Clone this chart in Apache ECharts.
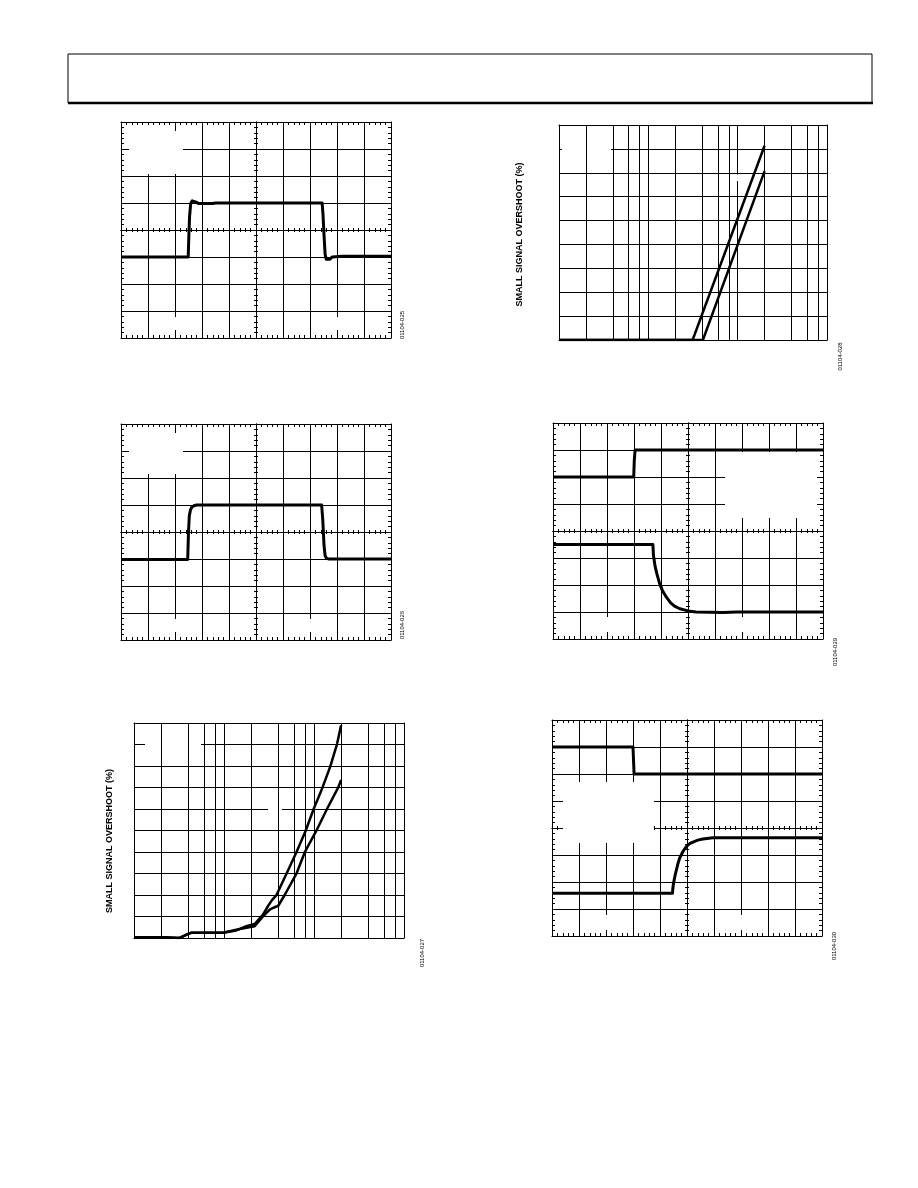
<!DOCTYPE html>
<html><head><meta charset="utf-8">
<script src="https://cdn.jsdelivr.net/npm/echarts@6/dist/echarts.min.js"></script>
<style>html,body{margin:0;padding:0;background:#fff}#c{width:918px;height:1188px}</style>
</head><body><div id="c"></div><script>
// ---------- DATA (scope traces in screen divisions: x 0..10, y -4..4) ----------
const p1Trace = [[0,-1.0],[2.49,-1.0],[2.51,-0.3],[2.54,0.5],[2.58,0.97],[2.64,1.08],[2.71,1.12],[2.78,1.03],[2.88,0.98],[3.4,0.98],[3.5,1.0],[7.45,1.0],[7.48,0.6],[7.52,-0.2],[7.56,-0.9],[7.6,-1.08],[7.66,-1.13],[7.74,-1.08],[7.82,-1.0],[8.2,-0.97],[10,-0.97]];
const p2Trace = [[0,-1.02],[2.47,-1.02],[2.5,0.0],[2.53,0.6],[2.57,0.8],[2.62,0.92],[2.7,0.97],[2.8,1.0],[7.43,1.0],[7.47,0.5],[7.52,-0.5],[7.56,-0.88],[7.6,-0.96],[7.68,-1.0],[10,-1.0]];
const p4Top = [[0,2],[2.99,2],[3.01,2.6],[3.04,3],[10,3]];
const p4Bottom = [[0,-0.5],[3.70,-0.5],[3.72,-0.9],[3.78,-1.3],[3.85,-1.6],[3.95,-1.95],[4.05,-2.2],[4.2,-2.45],[4.35,-2.65],[4.5,-2.78],[4.7,-2.88],[5.0,-2.96],[5.3,-3.0],[6.3,-3.02],[6.8,-3.0],[10,-3.0]];
const p6Top = [[0,3],[3.0,3],[3.02,2.5],[3.04,2.0],[10,2.0]];
const p6Bottom = [[0,-2.42],[4.46,-2.42],[4.48,-2.2],[4.51,-2.0],[4.56,-1.75],[4.61,-1.54],[4.67,-1.3],[4.73,-1.11],[4.85,-0.87],[4.98,-0.68],[5.1,-0.58],[5.22,-0.52],[5.4,-0.45],[5.59,-0.41],[5.96,-0.36],[10,-0.36]];
// log-x plots (x: 1..1000, y: grid divisions)
const p3CurveA = [[1,0],[31.3,0],[200,8.13]];
const p3CurveB = [[1,0],[40.8,0],[200,7.07]];
const p5CurveA = [[1,0.03],[2.1,0.03],[3.2,0.0],[3.8,0.15],[4.3,0.24],[9.75,0.24],[13.7,0.35],[17.7,0.55],[21.9,0.65],[27.1,1.09],[31,1.5],[34,1.75],[38.1,1.98],[49.3,2.98],[63.6,3.98],[80.8,4.99],[99.1,6.0],[123.8,6.98],[151.8,7.98],[180.2,9.02],[200,9.9]];
const p5CurveB = [[1,0.03],[2.1,0.03],[3.2,0.0],[3.8,0.15],[4.3,0.24],[9.75,0.24],[13.7,0.38],[17.7,0.47],[21.9,0.55],[27.1,1.0],[32.2,1.32],[36,1.42],[40.1,1.5],[47.2,2.0],[63.6,2.98],[78.8,3.98],[106.2,4.99],[139.4,6.0],[184.8,6.98],[200,7.35]];
const logGridValues = [2,4,6,8,20,40,60,80,200,400,600,800];
const figureIds = ['01104-025','01104-026','01104-028','01104-029','01104-027','01104-030'];
const yTitle = 'SMALL SIGNAL OVERSHOOT (%)';

// ---------- BUILD ----------
const BLACK = '#000';
const grids = [], xAxes = [], yAxes = [], series = [];
const thin = {color: BLACK, width: 1};

function scopeAxisSet(gi, dim, size) {
  const isX = dim === 'x';
  const base = {
    gridIndex: gi, type: 'value',
    min: isX ? 0 : -4, max: isX ? 10 : 4, interval: 1,
    axisLabel: {show: false},
    splitLine: {show: false},
    axisLine: {show: true, onZero: false, lineStyle: thin},
    minorTick: {show: true, splitNumber: 5, length: 3, lineStyle: thin},
    silent: true
  };
  const p0 = isX ? 'bottom' : 'left', p1 = isX ? 'top' : 'right';
  const list = [
    Object.assign({}, base, {position: p0, axisTick: {show: false, inside: true}, splitLine: {show: true, lineStyle: thin}}),
    Object.assign({}, base, {position: p1, axisTick: {show: false, inside: true}}),
    Object.assign({}, base, {position: p0, offset: -size / 2, axisTick: {show: false, inside: true}, minorTick: {show: true, splitNumber: 5, length: 2, lineStyle: thin}}),
    Object.assign({}, base, {position: p0, offset: -size / 2, axisTick: {show: false, inside: false}, minorTick: {show: true, splitNumber: 5, length: 2, lineStyle: thin}})
  ];
  const arr = isX ? xAxes : yAxes;
  const idx = arr.length;
  list.forEach(a => arr.push(a));
  return idx;
}

function traceSeries(xi, yi, data, width) {
  return {type: 'line', xAxisIndex: xi, yAxisIndex: yi, data: data, symbol: 'none', showSymbol: false,
    lineStyle: {color: BLACK, width: width || 3, cap: 'butt', join: 'round'}, animation: false, z: 10, silent: true};
}

function addScope(box, traces) {
  const gi = grids.length;
  grids.push({left: box[0], top: box[1], width: box[2], height: box[3], show: false});
  const xi = scopeAxisSet(gi, 'x', box[3]);
  const yi = scopeAxisSet(gi, 'y', box[2]);
  traces.forEach(t => series.push(traceSeries(xi, yi, t)));
}

function addLog(box, ymax, curves) {
  const gi = grids.length;
  grids.push({left: box[0], top: box[1], width: box[2], height: box[3], show: false});
  const xi = xAxes.length, yi = yAxes.length;
  const xb = {gridIndex: gi, type: 'log', logBase: 10, min: 1, max: 1000, axisLabel: {show: false}, axisTick: {show: false},
    axisLine: {show: true, onZero: false, lineStyle: thin}, silent: true};
  xAxes.push(Object.assign({}, xb, {position: 'bottom', splitLine: {show: true, lineStyle: thin}}));
  xAxes.push(Object.assign({}, xb, {position: 'top', splitLine: {show: false}}));
  const yb = {gridIndex: gi, type: 'value', min: 0, max: ymax, interval: 1, axisLabel: {show: false}, axisTick: {show: false},
    axisLine: {show: true, onZero: false, lineStyle: thin}, silent: true};
  yAxes.push(Object.assign({}, yb, {position: 'left', splitLine: {show: true, lineStyle: thin}}));
  yAxes.push(Object.assign({}, yb, {position: 'right', splitLine: {show: false}}));
  series.push({type: 'line', xAxisIndex: xi, yAxisIndex: yi, data: [], z: 1, animation: false, silent: true,
    markLine: {silent: true, symbol: ['none', 'none'], label: {show: false}, animation: false,
      lineStyle: {color: BLACK, width: 1, type: 'solid'}, emphasis: {disabled: true},
      data: logGridValues.map(v => ({xAxis: v}))}});
  curves.forEach(c => series.push(traceSeries(xi, yi, c, 2.5)));
}

addScope([121, 122, 270, 216], [p1Trace]);
addScope([121, 424, 270, 216], [p2Trace]);
addLog([559, 125, 268, 215], 9, [p3CurveA, p3CurveB]);
addScope([553, 423, 270, 216], [p4Top, p4Bottom]);
addLog([134, 723, 270, 215], 10, [p5CurveA, p5CurveB]);
addScope([552, 720, 270, 216], [p6Top, p6Bottom]);

// white areas where annotation text was removed
const blanks = [
  [129,125,44,49],[173,131,10,43],[171,317,8,13],[333,317,8,13],
  [129,427,44,47],[173,433,10,41],[171,619,8,13],[306,619,8,13],
  [562,134,49,31],[728.5,174.5,10.5,6.5],
  [725,452,92,66],[603,617,8,15],[738,617,8,15],
  [145,733,56,32],[268,790,14,39],[292,790,5,18],[292,811,5,18],
  [563,782,91,61],[602,915,8,15],[737,915,8,15]
];
const graphics = blanks.map(b => ({type: 'rect', z: 5, silent: true, shape: {x: b[0], y: b[1], width: b[2], height: b[3]}, style: {fill: '#fff'}}));
graphics.push({type: 'rect', z: 5, silent: true, shape: {x: 68, y: 54, width: 804, height: 49}, style: {fill: 'none', stroke: BLACK, lineWidth: 1}});
graphics.push({type: 'line', z: 5, silent: true, shape: {x1: 68, y1: 103, x2: 873, y2: 103}, style: {stroke: BLACK, lineWidth: 2.5}});
const idPos = [[402.5,325],[402.5,625],[840.5,356.5],[835.5,652],[422.5,953],[834.5,946]];
idPos.forEach((p, i) => graphics.push({type: 'text', z: 5, silent: true, x: p[0], y: p[1], rotation: Math.PI / 2,
  style: {text: figureIds[i], font: '6px "Liberation Sans", Arial, sans-serif', fill: BLACK, textAlign: 'center', textVerticalAlign: 'middle'}}));
[[520,234.5],[110,841]].forEach(p => graphics.push({type: 'text', z: 5, silent: true, x: p[0], y: p[1], rotation: Math.PI / 2,
  style: {text: yTitle, font: 'bold 9px "Liberation Sans", Arial, sans-serif', fill: BLACK, textAlign: 'center', textVerticalAlign: 'middle'}}));

const chart = echarts.init(document.getElementById('c'), null, {renderer: 'canvas'});
chart.setOption({
  animation: false,
  backgroundColor: '#fff',
  grid: grids, xAxis: xAxes, yAxis: yAxes, series: series,
  graphic: {elements: graphics}
});
</script></body></html>
